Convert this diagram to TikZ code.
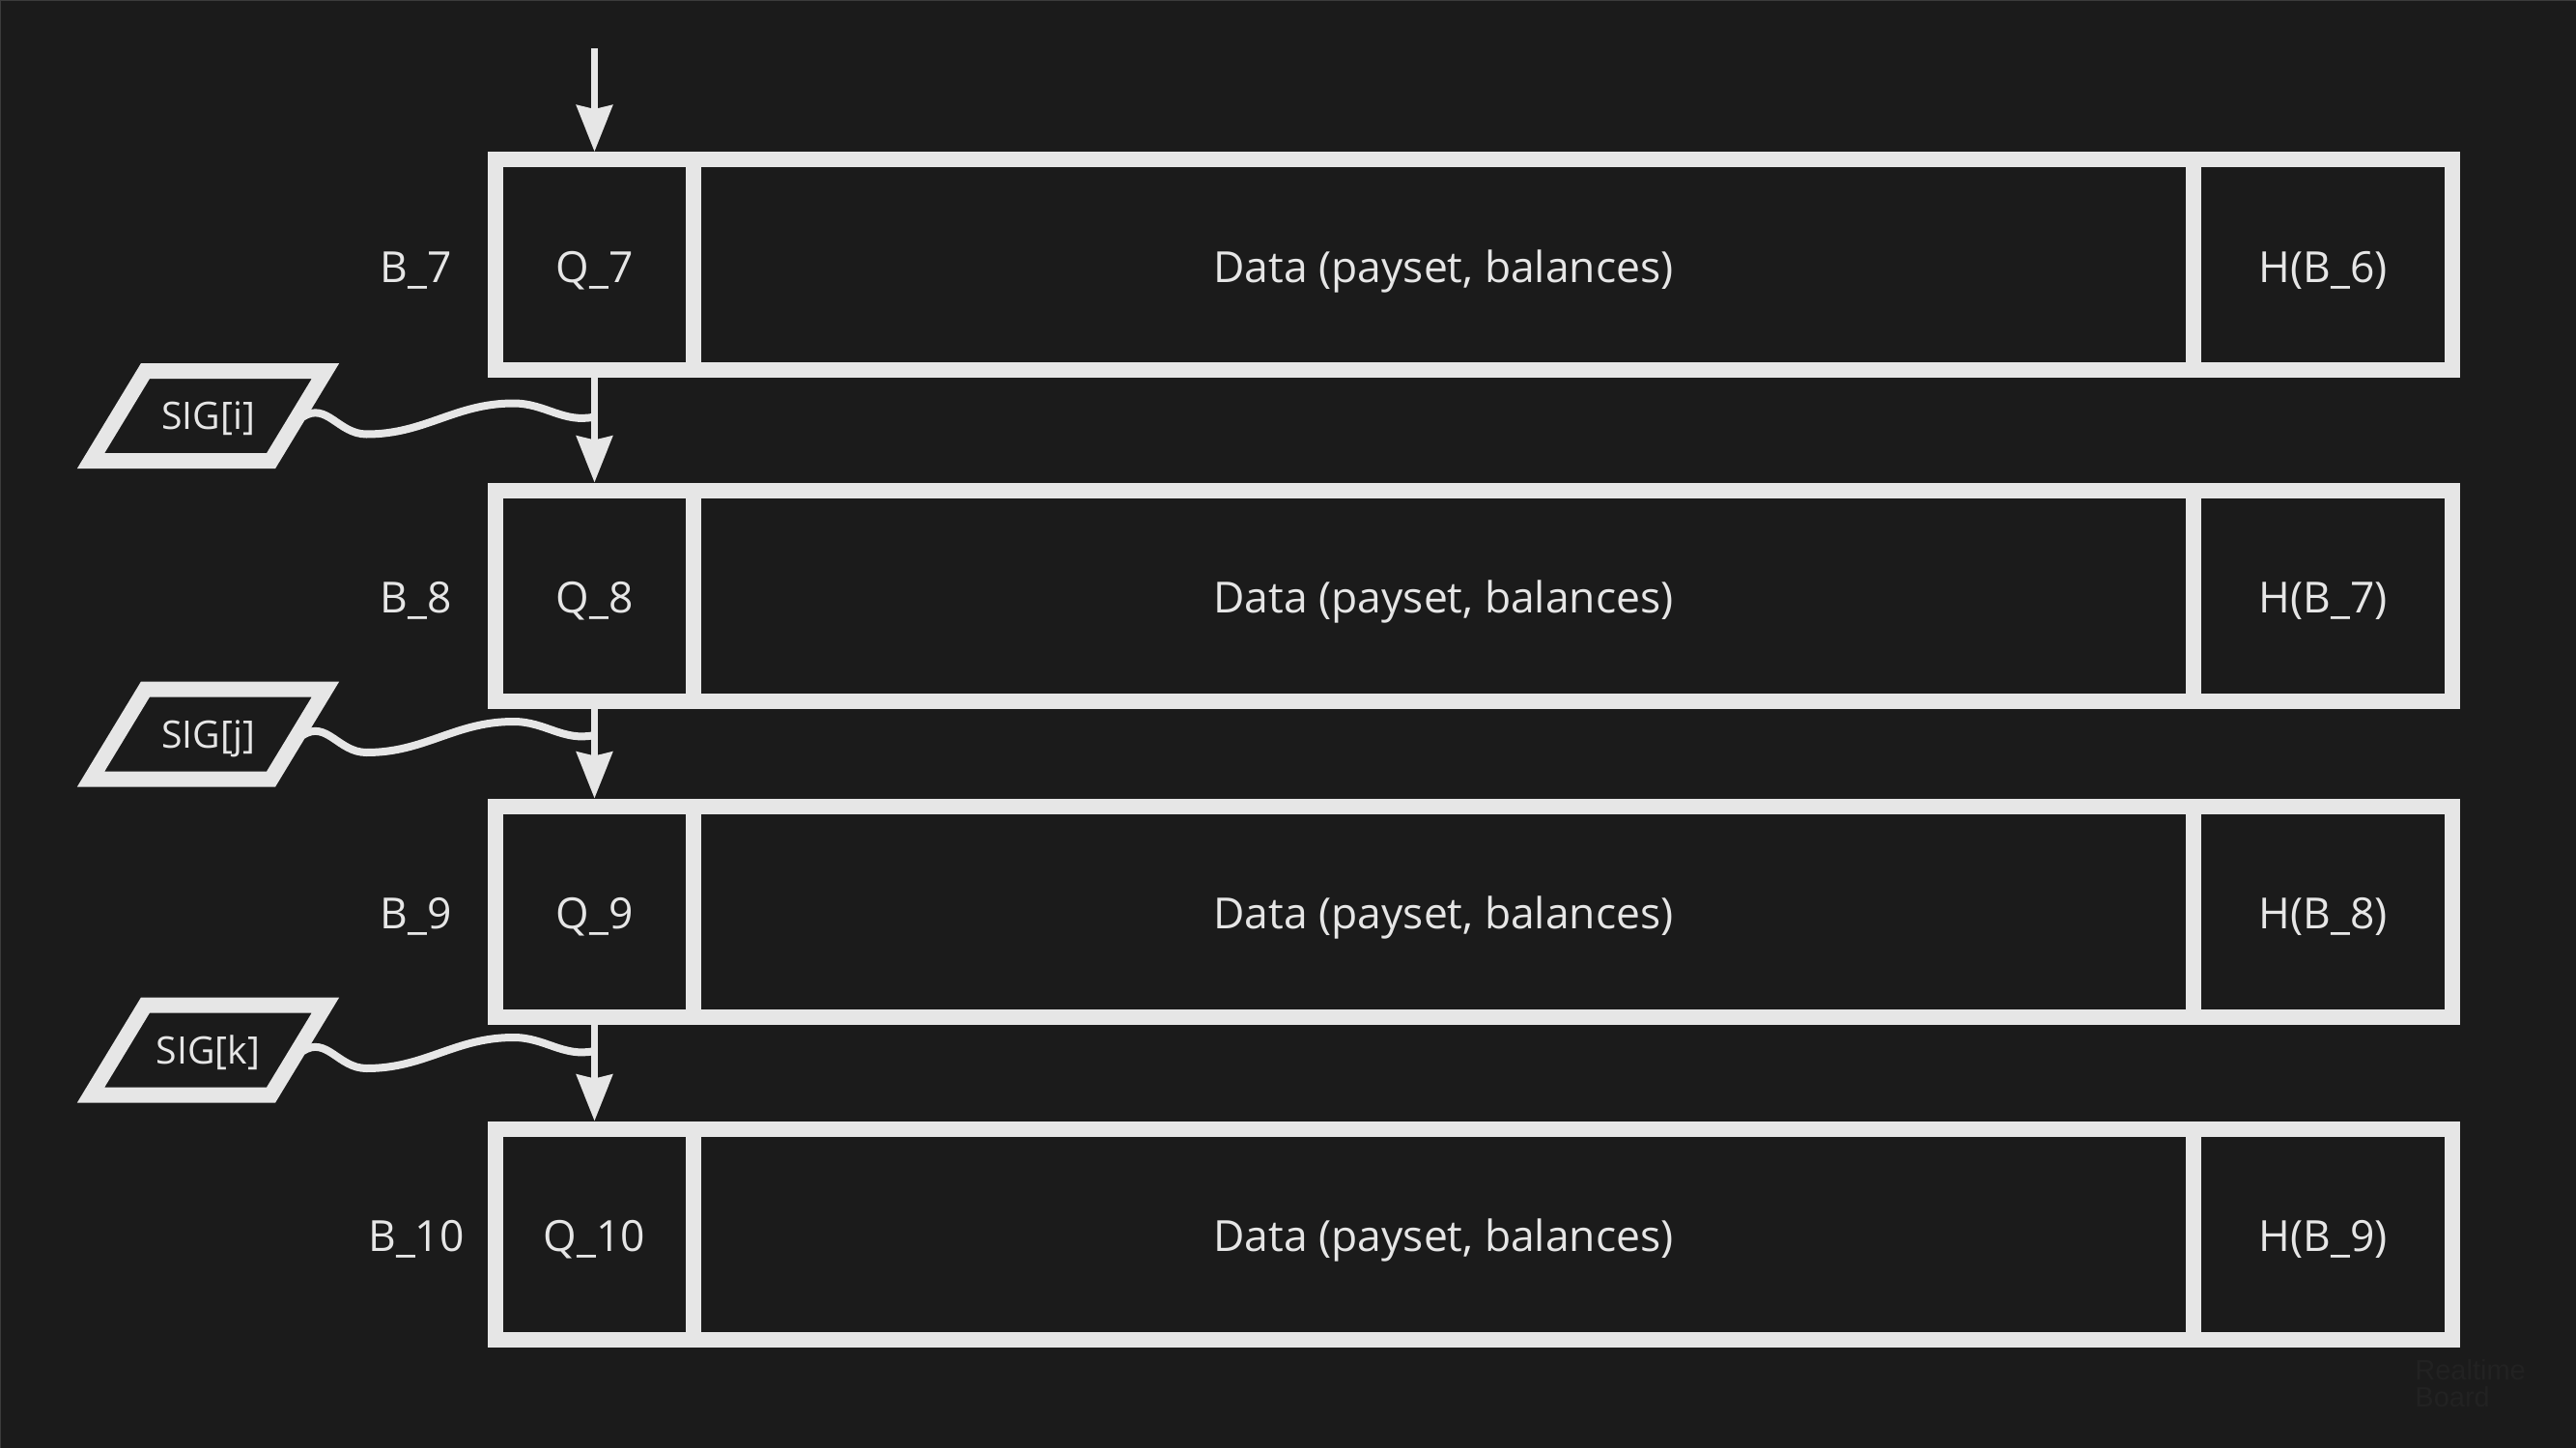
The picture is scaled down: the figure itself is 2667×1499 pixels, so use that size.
\documentclass[tikz,border=0pt]{standalone}
\usepackage{fontspec}
\setmainfont{Open Sans}
\newfontfamily\wmfont{Liberation Sans}
\usetikzlibrary{arrows.meta,calc}
\definecolor{bg}{HTML}{1B1B1B}
\definecolor{fg}{HTML}{E6E6E6}
\definecolor{wm}{HTML}{222222}
\definecolor{edgec}{HTML}{3C3C3C}
\newcommand\fmain{\fontsize{22.2pt}{26pt}\selectfont}
\newcommand\fsig{\fontsize{19.6pt}{24pt}\selectfont}
\newcommand\fwm{\wmfont\fontsize{14.5pt}{14pt}\selectfont}
\begin{document}
\begin{tikzpicture}[x=0.5pt,y=-0.5pt,
  cell/.style={draw=fg, line width=8pt, minimum height=109pt, inner sep=0pt,
    text=fg, font=\fmain, text height=18pt, text depth=0pt},
  lbl/.style={text=fg, font=\fmain, inner sep=0pt, text height=18pt, text depth=0pt},
  sigtxt/.style={text=fg, font=\fsig, inner sep=0pt, text height=14pt, text depth=0pt},
  sigbox/.style={draw=fg, line width=8pt, line join=miter},
  arr/.style={draw=fg, line width=3.5pt, -{Stealth[length=24pt,width=18.5pt,inset=2pt]}},
  wave/.style={draw=fg, line width=4pt}]
\fill[bg] (0,0) rectangle (2667,1499);
\useasboundingbox (0,0) rectangle (2667,1499);
\draw[edgec, line width=1pt] (0,0) -- (2667,0);
\draw[edgec, line width=1pt] (0,0) -- (0,1499);

% block rows
\foreach \n/\cy/\h in {7/274/6, 8/616.5/7, 9/943.5/8, 10/1277.5/9} {
  \node[cell, minimum width=102.5pt] (q\n) at (615.5,\cy) {Q\_\n};
  \node[cell, minimum width=776.5pt] (d\n) at (1494.5,\cy) {Data (payset, balances)};
  \node[cell, minimum width=134pt] (h\n) at (2405,\cy) {H(B\_\h)};
  \node[lbl] (b\n) at (431,\cy) {B\_\n};
}

% signatures
\node[sigtxt] (sigi) at (215.6,430.5) {SIG[i]};
\node[sigtxt] (sigj) at (215.6,760) {SIG[j]};
\node[sigtxt] (sigk) at (215.6,1087) {SIG[k]};
\foreach \s in {i,j,k} {
  \draw[sigbox] (sig\s.center) ++(-65.1,-46.5) -- ++(186.5,0) -- ++(-56.4,93) -- ++(-186.5,0) -- cycle;
  \coordinate (s\s) at ($(sig\s.center)+(98,1)$);
  \coordinate (m\s) at ($(sig\s.center)+(400,1)$);
  \draw[wave] (s\s) to[out=32,in=180,looseness=1.1] ++(66,18) to[out=0,in=180] ++(152,-32) to[out=0,in=192] (m\s);
}

% arrows
\coordinate (top) at (615.5,50);
\draw[arr] (top) -- (q7.north);
\draw[arr] (q7.south) -- (q8.north);
\draw[arr] (q8.south) -- (q9.north);
\draw[arr] (q9.south) -- (q10.north);

% watermark
\node[anchor=north west, inner sep=0pt, align=left, text=wm, font=\fwm] (wmark) at (2500,1407) {Realtime\\Board};
\end{tikzpicture}
\end{document}
